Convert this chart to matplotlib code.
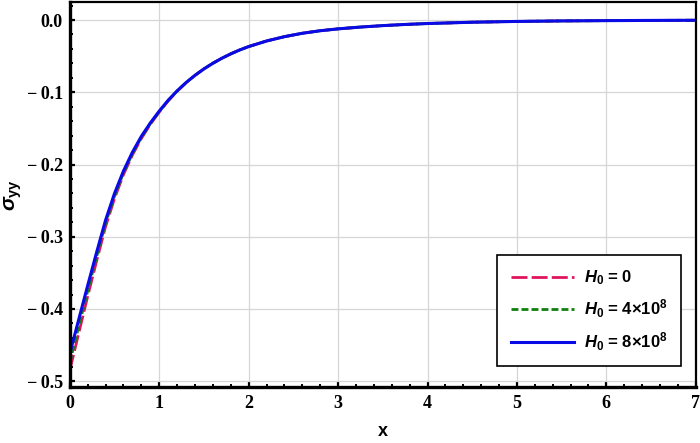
import numpy as np
import matplotlib.pyplot as plt
from matplotlib.ticker import MultipleLocator

plt.rcParams['mathtext.fontset'] = 'custom'
plt.rcParams['mathtext.it'] = 'Liberation Sans:italic:bold'
plt.rcParams['mathtext.rm'] = 'Liberation Sans:bold'
plt.rcParams['mathtext.bf'] = 'Liberation Sans:bold'
plt.rcParams['lines.scale_dashes'] = False

# valores
x = [0, 0.1, 0.2, 0.3, 0.4, 0.5, 0.6, 0.7, 0.8, 0.9, 1.0, 1.1, 1.2, 1.3, 1.4,
     1.5, 1.6, 1.7, 1.8, 1.9, 2.0, 2.2, 2.4, 2.6, 2.8, 3.0, 3.25, 3.5, 3.75,
     4.0, 4.5, 5.0, 5.5, 6.0, 6.5, 7.0]

sigma_h8 = [-0.462, -0.4145, -0.3675, -0.3215, -0.277, -0.240, -0.209, -0.183,
            -0.161, -0.1425, -0.126, -0.111, -0.098, -0.0865, -0.0765, -0.0676,
            -0.0598, -0.0529, -0.0468, -0.0414, -0.0367, -0.0290, -0.0230,
            -0.0183, -0.0148, -0.0122, -0.0097, -0.0077, -0.0061, -0.0048,
            -0.0030, -0.0019, -0.0012, -0.0008, -0.0005, -0.0003]

sigma_h4 = [-0.474, -0.424, -0.375, -0.3275, -0.2815, -0.2435, -0.2115, -0.185,
            -0.1625, -0.1435, -0.1268, -0.1115, -0.0983, -0.0867, -0.0765, -0.0676,
            -0.0598, -0.0529, -0.0468, -0.0414, -0.0367, -0.0290, -0.0230,
            -0.0183, -0.0148, -0.0122, -0.0097, -0.0077, -0.0061, -0.0048,
            -0.0030, -0.0019, -0.0012, -0.0008, -0.0005, -0.0003]

sigma_h0 = [-0.485, -0.4335, -0.3825, -0.3335, -0.286, -0.247, -0.214, -0.187,
            -0.164, -0.1445, -0.1275, -0.112, -0.0987, -0.0869, -0.0766, -0.0676,
            -0.0598, -0.0529, -0.0468, -0.0414, -0.0367, -0.0290, -0.0230,
            -0.0183, -0.0148, -0.0122, -0.0097, -0.0077, -0.0061, -0.0048,
            -0.0030, -0.0019, -0.0012, -0.0008, -0.0005, -0.0003]

labels = [r'$H_0$ = 0', r'$H_0$ = 4×10$^8$', r'$H_0$ = 8×10$^8$']

fig = plt.figure(figsize=(7, 4.43), dpi=100)
ax = fig.add_axes([0.0997, 0.1264, 0.8943, 0.8691])

ax.plot(x, sigma_h0, color='#E0145E', lw=2, dashes=(11.5, 3), label=labels[0])
ax.plot(x, sigma_h4, color='#108010', lw=2, dashes=(5, 2.2), label=labels[1])
ax.plot(x, sigma_h8, color='#0A0AE6', lw=2.2, label=labels[2])

ax.set_xlim(0, 7)
ax.set_ylim(-0.508, 0.025)
ax.xaxis.set_major_locator(MultipleLocator(1))
ax.xaxis.set_minor_locator(MultipleLocator(0.2))
ax.yaxis.set_major_locator(MultipleLocator(0.1))
ax.yaxis.set_minor_locator(MultipleLocator(0.02))
ax.yaxis.set_major_formatter(plt.FuncFormatter(lambda v, p: f'{v:.1f}'.replace('-', '\u2212\u2009')))

ax.grid(True, which='major', color='#d6d6d6', lw=0.9)
ax.set_axisbelow(True)

for s in ax.spines.values():
    s.set_linewidth(1.6)
ax.spines['left'].set_linewidth(2.4)
ax.spines['bottom'].set_linewidth(2.4)

ax.tick_params(which='both', direction='in', top=False, right=False)
ax.tick_params(which='major', length=3.5, width=1.6)
ax.tick_params(which='minor', length=2, width=1.4)
ax.tick_params(axis='x', pad=6)
ax.tick_params(axis='y', pad=5)
for lab in ax.get_xticklabels() + ax.get_yticklabels():
    lab.set_fontfamily('Liberation Serif')
    lab.set_fontweight('bold')
    lab.set_fontsize(13)

ax.set_xlabel('x', fontfamily='Liberation Sans', fontweight='bold', fontsize=13, labelpad=8)
ax.set_ylabel(r'$\sigma_{\mathrm{yy}}$', fontsize=15, labelpad=2)

leg = ax.legend(loc='lower right', bbox_to_anchor=(0.976, 0.0545), borderaxespad=0,
                fancybox=False, edgecolor='black', framealpha=1, handlelength=3.8,
                labelspacing=0.6, borderpad=0.8, handletextpad=0.6,
                prop={'family': 'Liberation Sans', 'weight': 'bold', 'size': 12})
leg.get_frame().set_linewidth(1.2)

plt.savefig('out.png', dpi=100)
